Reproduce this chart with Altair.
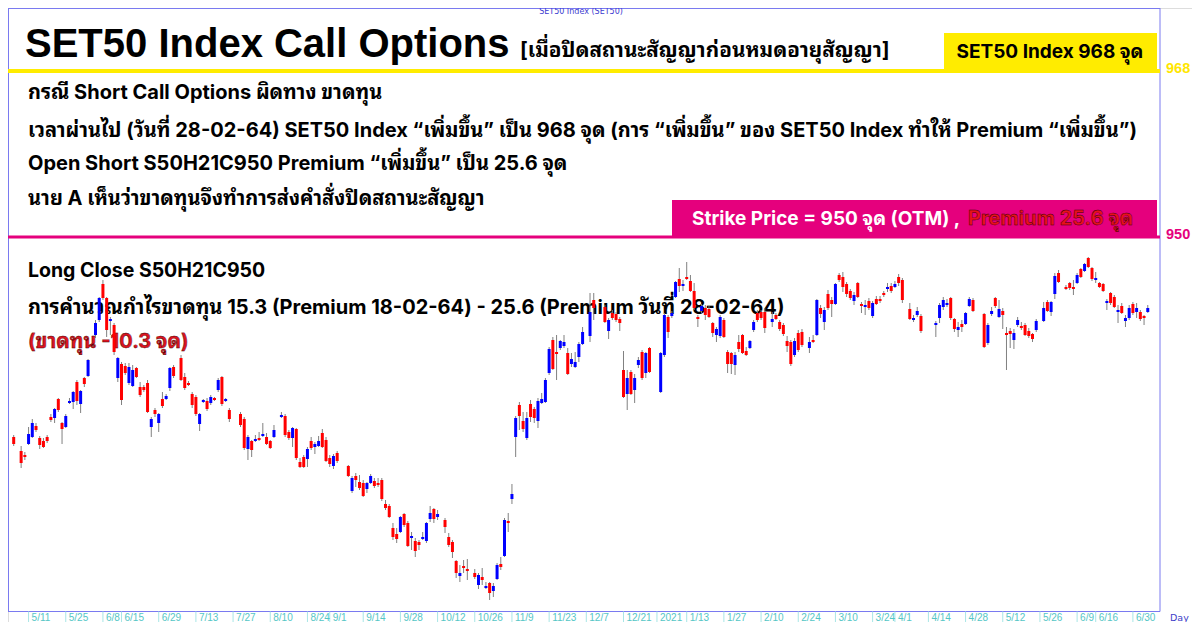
import altair as alt
import pandas as pd

# ---------------- data (weekday slots; None = market holiday) ----------------
first_day = -4
opens = [
    803, None, 789, 785, 796, 803, 814, 802, 799, 803,
    823, 822, 841, 817, 813, 837, 838, 858, 836, 862,
    864, None, 905, 920, 956, 942, 919, 915, 862, 876,
    874, 857, 854, 872, 853, 853, 857, 813, 830, 817,
    841, 841, 852, 873, None, 882, 863, 857, 846, 843,
    816, 838, 839, 837, 842, 850, 863, 839, 830, None,
    None, 826, 821, 791, 799, 799, 802, 804, 803, 799,
    803, None, 823, 824, 808, 802, 811, 778, 783, 781,
    799, 793, 794, 807, 800, 782, 774, 787, None, None,
    774, 749, 764, 758, 757, 751, 757, 759, 757, 760,
    736, 734, 712, 706, 708, 726, 717, 702, 699, 698,
    701, 699, 721, 731, 723, None, 720, 703, 698, 679,
    664, 674, 671, None, 667, 655, 663, 652, 657, 649,
    661, 676, 684, 719, 741, 803, 835, 819, 802, 836,
    831, 819, 837, 838, 867, 900, 888, 892, 894, 887,
    876, 873, 883, 896, None, 904, 940, None, None, 933,
    909, 927, 926, 921, 870, 846, 868, 850, 875, 888,
    867, 892, None, None, 848, 885, 923, 924, 943, 961,
    954, 963, 959, 949, 923, 929, 932, 931, 917, 905,
    904, 920, 888, 887, 875, 898, 905, 889, 892, 910,
    927, 928, 928, None, 918, 925, 918, 915, 899, 898,
    885, 907, 908, None, 892, 900, 905, 932, 918, 946,
    940, 936, 965, 963, 956, 949, 939, 957, 936, 933,
    939, 924, 941, 941, 947, 951, 954, 953, 963, 960,
    None, 931, 920, 925, 924, None, None, None, 915, 922,
    933, 935, 942, 921, 910, 916, 916, 934, 940, None,
    None, 926, 897, 926, 942, 923, 929, 907, 909, 900,
    915, 914, 915, 909, 906, 910, None, 919, 938, 928,
    946, 967, None, 953, 957, 953, 957, 971, 969, 982,
    972, 960, 957, 956, 937, 947, 943, 928, 934, 919,
    922, 936, 928, 928, 924, 928,
]
highs = [
    805, None, 794, 788, 813, 821, 817, 804, 802, 805,
    826, 832, 842, 818, 826, 842, 849, 860, 850, 863,
    881, None, 920, 943, 960, 943, 923, 917, 883, 878,
    877, 877, 875, 873, 858, 855, 860, 823, 832, 827,
    848, 846, 873, 875, None, 885, 867, 859, 848, 845,
    827, 841, 842, 845, 843, 862, 864, 842, 832, None,
    None, 828, 823, 805, 800, 805, 808, 817, 807, 800,
    815, None, 828, 826, 810, 813, 812, 782, 785, 793,
    803, 798, 804, 811, 803, 785, 786, 789, None, None,
    775, 764, 767, 765, 760, 758, 766, 762, 762, 762,
    740, 736, 717, 712, 724, 727, 719, 708, 702, 700,
    708, 718, 734, 732, 730, None, 722, 707, 700, 680,
    675, 680, 681, None, 671, 667, 672, 658, 658, 657,
    677, 683, 722, 727, 756, 824, 838, 828, 828, 840,
    833, 842, 847, 862, 893, 903, 905, 900, 905, 892,
    887, 888, 898, 913, None, 947, 947, None, None, 935,
    922, 930, 928, 923, 889, 870, 870, 866, 883, 890,
    888, 893, None, None, 888, 927, 925, 929, 959, 972,
    960, 978, 965, 957, 925, 936, 935, 934, 918, 913,
    925, 922, 890, 888, 888, 905, 906, 893, 900, 920,
    930, 930, 932, None, 928, 927, 920, 917, 904, 900,
    902, 910, 911, None, 903, 905, 941, 935, 933, 950,
    943, 957, 967, 968, 958, 951, 948, 958, 938, 940,
    942, 939, 944, 944, 949, 957, 957, 959, 966, 962,
    None, 937, 925, 933, 926, None, None, None, 919, 937,
    943, 941, 943, 922, 918, 920, 928, 943, 942, None,
    None, 927, 917, 933, 943, 940, 932, 913, 912, 911,
    923, 918, 917, 912, 907, 921, None, 938, 940, 939,
    967, 970, None, 955, 958, 960, 967, 972, 977, 983,
    973, 968, 958, 957, 941, 948, 945, 935, 937, 925,
    935, 938, 937, 930, 925, 935,
]
lows = [
    794, None, 772, 780, 795, 802, 808, 791, 792, 797,
    818, 817, 828, 796, 812, 836, 831, 835, 827, 853,
    863, None, 902, 918, 940, 903, 905, 885, 858, 835,
    865, 855, 853, 862, 843, 848, 827, 803, 823, 808,
    832, 840, 849, 862, None, 859, 850, 854, 832, 824,
    809, 837, 829, 835, 839, 848, 834, 838, 818, None,
    None, 813, 790, 780, 783, 798, 799, 803, 795, 791,
    802, None, 822, 803, 800, 793, 780, 772, 772, 773,
    790, 786, 793, 792, 778, 773, 771, 777, None, None,
    763, 747, 753, 750, 743, 747, 756, 752, 753, 739,
    730, 722, 700, 697, 707, 713, 693, 690, 683, 690,
    700, 697, 718, 717, 720, None, 707, 693, 682, 662,
    658, 667, 660, None, 661, 651, 655, 651, 640, 643,
    660, 670, 683, 708, 736, 783, 810, 808, 800, 818,
    817, 812, 836, 837, 865, 870, 860, 890, 892, 865,
    873, 872, 878, 895, None, 898, 920, None, None, 917,
    901, 920, 918, 909, 842, 830, 845, 837, 872, 860,
    862, 867, None, None, 847, 883, 902, 922, 942, 948,
    949, 960, 948, 930, 913, 927, 920, 922, 903, 898,
    902, 902, 867, 866, 865, 888, 886, 884, 891, 908,
    918, 920, 907, None, 913, 920, 909, 904, 888, 874,
    883, 888, 893, None, 887, 897, 904, 922, 910, 930,
    923, 935, 958, 948, 943, 940, 935, 942, 927, 925,
    930, 922, 935, 937, 943, 948, 947, 952, 954, 937,
    None, 920, 918, 923, 907, None, None, None, 903, 917,
    930, 933, 920, 908, 903, 908, 915, 933, 928, None,
    None, 892, 895, 924, 932, 922, 911, 870, 892, 891,
    913, 910, 904, 902, 898, 908, None, 918, 928, 924,
    941, 957, None, 950, 950, 945, 956, 962, 968, 972,
    959, 957, 952, 948, 930, 935, 932, 917, 926, 913,
    920, 925, 922, 919, 915, 927,
]
closes = [
    796, None, 777, 783, 806, 817, 810, 795, 793, 799,
    820, 831, 830, 811, 824, 839, 848, 839, 849, 856,
    880, None, 917, 942, 942, 910, 921, 888, 882, 840,
    867, 873, 870, 863, 845, 850, 828, 821, 826, 826,
    834, 844, 872, 864, None, 860, 852, 855, 835, 826,
    826, 840, 831, 843, 840, 860, 836, 841, 821, None,
    None, 815, 792, 803, 790, 801, 800, 806, 796, 792,
    810, None, 825, 805, 802, 812, 782, 773, 773, 791,
    792, 796, 799, 793, 779, 776, 784, 779, None, None,
    764, 762, 760, 752, 744, 757, 764, 754, 755, 741,
    732, 723, 703, 701, 723, 715, 694, 704, 689, 695,
    703, 717, 727, 721, 726, None, 713, 695, 688, 667,
    667, 672, 669, None, 663, 665, 660, 654, 647, 654,
    675, 673, 720, 717, 746, 822, 824, 811, 822, 823,
    822, 839, 841, 860, 891, 871, 886, 899, 898, 866,
    881, 878, 896, 908, None, 928, 932, None, None, 918,
    920, 922, 920, 917, 843, 862, 846, 862, 880, 862,
    887, 868, None, None, 887, 925, 908, 927, 958, 954,
    956, 961, 949, 932, 921, 934, 925, 923, 907, 911,
    923, 903, 876, 876, 885, 891, 887, 885, 899, 918,
    920, 922, 912, None, 921, 921, 911, 906, 894, 876,
    899, 890, 895, None, 898, 898, 940, 926, 930, 932,
    936, 956, 960, 953, 946, 942, 945, 943, 934, 935,
    932, 937, 936, 939, 945, 953, 949, 956, 957, 940,
    None, 921, 922, 929, 909, None, None, None, 917, 935,
    940, 937, 922, 911, 913, 913, 927, 941, 929, None,
    None, 893, 915, 929, 934, 931, 925, 905, 906, 907,
    920, 912, 905, 904, 901, 919, None, 932, 929, 938,
    964, 958, None, 951, 952, 951, 965, 963, 976, 973,
    961, 962, 953, 949, 939, 937, 933, 930, 927, 922,
    932, 927, 932, 921, 922, 932,
]

tick_days = [0, 10, 20, 25, 35, 45, 55, 65, 75, 81, 90, 100, 110, 120, 130, 140,
             150, 160, 169, 177, 187, 197, 207, 217, 227, 233, 242, 252, 262, 272,
             282, 287, 297]
tick_labels = ["5/11", "5/25", "6/8", "6/15", "6/29", "7/13", "7/27", "8/10", "8/24",
               "9/1", "9/14", "9/28", "10/12", "10/26", "11/9", "11/23", "12/7",
               "12/21", "2021", "1/13", "1/27", "2/10", "2/24", "3/10", "3/24", "4/1",
               "4/14", "4/28", "5/12", "5/26", "6/9", "6/16", "6/30"]

# ---------------- build tables ----------------
rows = []
for k, (o, h, l, c) in enumerate(zip(opens, highs, lows, closes)):
    if o is None:
        continue
    rows.append({"day": first_day + k, "open": o, "high": h, "low": l, "close": c,
                 "dir": "up" if c >= o else "down"})
df = pd.DataFrame(rows)
ticks_df = pd.DataFrame({"day": tick_days, "label": tick_labels})
one = pd.DataFrame({"k": [0]})

W, H = 1184, 614
xs = alt.Scale(domain=[-4.187, 311.55], nice=False, zero=False)
ys = alt.Scale(domain=[618, 1232], nice=False, zero=False)

BODY = "Inter, Noto Sans Thai Looped, Loma, sans-serif"
TITLE = "Liberation Sans, Noto Sans Thai Looped, sans-serif"
FRAME = "#7a7af0"
AXIS_Y = 603.5


def text(s, x, y, size=20, color="#000000", align="left", baseline="alphabetic",
         font=BODY, weight="bold", **kw):
    return alt.Chart(one).mark_text(text=s, align=align, baseline=baseline, font=font,
                                    fontSize=size, fontWeight=weight, color=color,
                                    **kw).encode(x=alt.value(x), y=alt.value(y))


def rect(x1, x2, y1, y2, color):
    return alt.Chart(one).mark_rect(color=color).encode(
        x=alt.value(x1), x2=alt.value(x2), y=alt.value(y1), y2=alt.value(y2))


def hline(x1, x2, y, color, w=1):
    return alt.Chart(one).mark_rule(color=color, strokeWidth=w).encode(
        x=alt.value(x1), x2=alt.value(x2), y=alt.value(y))


def vline(x, y1, y2, color, w=1):
    return alt.Chart(one).mark_rule(color=color, strokeWidth=w).encode(
        x=alt.value(x), y=alt.value(y1), y2=alt.value(y2))


# ---------------- decorations ----------------
deco = [
    hline(0, 1152, 0.5, FRAME),
    vline(0.5, 0, AXIS_Y, FRAME),
    hline(0, 1152, AXIS_Y, FRAME),
    vline(1152, 0, AXIS_Y, FRAME),
    text("SET50 Index (SET50)", 573, 4, size=8, color="#3c3cd0", align="center",
         baseline="middle", font="DejaVu Sans", weight="normal"),
    rect(936, 1149, 25, 64, "#ffec00"),
    hline(0, 1152, 63, "#ffec00", 4),
    rect(664, 1149, 192, 230, "#e5007d"),
    hline(0, 1152, 229, "#e5007d", 3),
    text("SET50 Index Call Options", 17, 49, size=40, font=TITLE),
    text("[เมื่อปิดสถานะสัญญาก่อนหมดอายุสัญญา]", 512, 49, size=20.7),
    text("SET50 Index 968 จุด", 1042, 50, size=19, align="center"),
    text("กรณี Short Call Options ผิดทาง ขาดทุน", 20, 90.5),
    text("เวลาผ่านไป (วันที่ 28-02-64) SET50 Index “เพิ่มขึ้น” เป็น 968 จุด  (การ “เพิ่มขึ้น” ของ SET50 Index ทำให้ Premium “เพิ่มขึ้น”)", 20, 128.5),
    text("Open Short S50H21C950 Premium “เพิ่มขึ้น” เป็น 25.6 จุด", 20, 161.5),
    text("นาย A เห็นว่าขาดทุนจึงทำการส่งคำสั่งปิดสถานะสัญญา", 20, 196.5),
    text("Strike Price = 950 จุด (OTM) ,", 684, 217, size=19, color="#ffffff"),
    text("Premium 25.6 จุด", 960, 217, size=20, color="#e8101a", stroke="#3a0000",
         strokeWidth=0.4),
    text("Long Close S50H21C950", 20, 268.5, size=19.5),
    text("การคำนวณกำไรขาดทุน 15.3 (Premium 18-02-64) - 25.6 (Premium วันที่ 28-02-64)", 20, 305.5),
    text("(ขาดทุน -10.3 จุด)", 20, 339.5, color="#dc1420", stroke="#3a0000",
         strokeWidth=0.4),
    text("968", 1158, 65, size=14.5, color="#ffe600", font="Liberation Sans"),
    text("950", 1158, 231, size=14.5, color="#e5007d", font="Liberation Sans"),
    text("Day", 1162, 610, size=9.5, color="#4040c8", baseline="middle",
         font="DejaVu Sans", weight="normal"),
]

# ---------------- x "axis" (weekday labels) ----------------
xticks = alt.Chart(ticks_df).mark_rule(color="#a8e6e6").encode(
    x=alt.X("day:Q", scale=xs, axis=None), y=alt.value(AXIS_Y), y2=alt.value(614))
xlabels = alt.Chart(ticks_df).mark_text(align="left", baseline="middle", dx=3,
                                         font="Liberation Sans", fontSize=10,
                                         color="#55c6c6").encode(
    x=alt.X("day:Q", scale=xs, axis=None), y=alt.value(610), text="label:N")

# ---------------- candles ----------------
wicks = alt.Chart(df).mark_rule(color="#808080", strokeWidth=1).encode(
    x=alt.X("day:Q", scale=xs, axis=None),
    y=alt.Y("low:Q", scale=ys,
            axis=alt.Axis(orient="right", offset=-32, labels=False, tickSize=3,
                          tickCount=100, grid=False, title=None, domain=False,
                          tickColor=FRAME)),
    y2="high:Q")
bodies = alt.Chart(df).mark_bar(size=3).encode(
    x=alt.X("day:Q", scale=xs, axis=None),
    y=alt.Y("open:Q", scale=ys, axis=None),
    y2="close:Q",
    color=alt.Color("dir:N", scale=alt.Scale(domain=["up", "down"],
                                             range=["#0000ff", "#ff0000"]),
                    legend=None))

chart = alt.layer(*deco, xticks, xlabels, wicks, bodies).properties(
    width=W, height=H, padding=0,
    autosize=alt.AutoSizeParams(type="none"),
).configure_view(stroke=None).configure(background="#ffffff")

chart.save("out.html", embed_options={"renderer": "svg", "actions": False})
